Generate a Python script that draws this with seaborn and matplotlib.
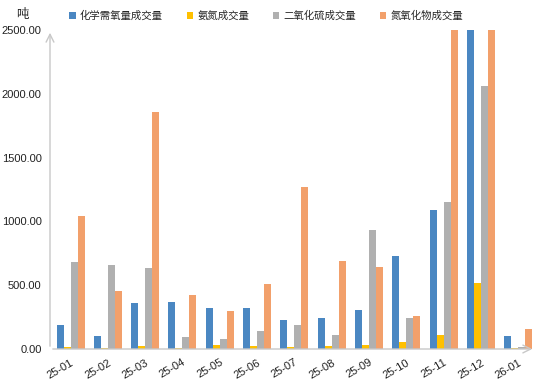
import matplotlib.pyplot as plt
import pandas as pd
import seaborn as sns

months = ['25-01', '25-02', '25-03', '25-04', '25-05', '25-06', '25-07',
          '25-08', '25-09', '25-10', '25-11', '25-12', '26-01']
cod = [188, 102, 360, 368, 321, 321, 227, 243, 306, 729, 1089, 3100, 102]
nh3 = [13, 8, 23, 8, 31, 23, 16, 23, 31, 55, 110, 517, 8]
so2 = [682, 658, 635, 94, 78, 141, 188, 110, 932, 243, 1152, 2061, 16]
nox = [1043, 455, 1858, 424, 298, 510, 1269, 690, 643, 259, 2900, 3600, 157]

series = ['化学需氧量成交量', '氨氮成交量', '二氧化硫成交量', '氮氧化物成交量']
colors = ['#4a87c2', '#ffc000', '#b0b0b0', '#f2a06b']

sns.set_style('white')
plt.rcParams['font.family'] = ['Liberation Sans', 'Noto Sans CJK SC', 'DejaVu Sans']

df = pd.DataFrame({'month': months * 4,
                   'series': sum([[s] * len(months) for s in series], []),
                   'value': cod + nh3 + so2 + nox})

fig = plt.figure(figsize=(5.54, 3.87), dpi=100)
ax = fig.add_axes([50 / 554, 38 / 387, 485 / 554, 319 / 387])
sns.barplot(data=df, x='month', y='value', hue='series', palette=colors,
            width=0.75, saturation=1, linewidth=0, ax=ax, legend=True)

ax.set_ylim(0, 2500)
ax.set_xlim(-0.55, 12.45)
ax.set_yticks(range(0, 2501, 500))
ax.set_yticklabels(['%.2f' % v for v in range(0, 2501, 500)], fontsize=8)
ax.tick_params(axis='both', length=0, pad=6, colors='#222222')
plt.setp(ax.get_xticklabels(), rotation=30, ha='right', rotation_mode='anchor', fontsize=8)
ax.set_xlabel('')
ax.set_ylabel('')
for s in ax.spines.values():
    s.set_visible(False)

# axis lines with open arrow heads
ax.annotate('', xy=(0, 1.0), xytext=(0, 0), xycoords='axes fraction',
            arrowprops=dict(arrowstyle='->', color='#c8c8c8', lw=1, mutation_scale=14))
ax.annotate('', xy=(1.0, 0), xytext=(0, 0), xycoords='axes fraction',
            arrowprops=dict(arrowstyle='->', color='#c8c8c8', lw=1, mutation_scale=14))

ax.legend(ncol=4, loc='center left', bbox_to_anchor=(60 / 554, 1 - 16 / 387),
          bbox_transform=fig.transFigure, frameon=False, fontsize=7.5,
          handlelength=0.6, handleheight=0.6, handletextpad=0.4, columnspacing=2.3)
fig.text(22 / 554, 1 - 15 / 387, '吨', fontsize=9, ha='center', va='center')

fig.savefig('out.png', dpi=100)
